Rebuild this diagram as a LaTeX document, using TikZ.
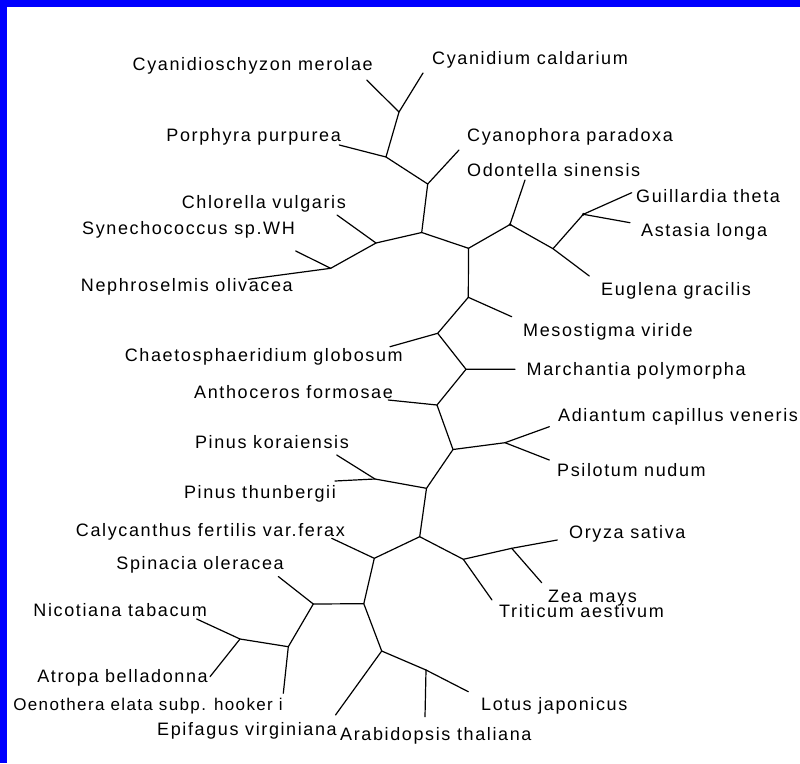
\documentclass[tikz,border=0pt]{standalone}
\usepackage{fontspec}
\newfontfamily\labfont{Liberation Sans}[LetterSpace=9]
\newfontfamily\labfontb{Liberation Sans}[LetterSpace=8]
\tikzset{
  br/.style={line width=1.2pt, line cap=round, line join=round},
  lbl/.style={inner sep=0pt, font=\labfont\fontsize{18}{21}\selectfont},
  lr/.style={lbl, anchor=base west},
  ll/.style={lbl, anchor=base east},
  dotnode/.style={circle, fill=black, inner sep=0pt, minimum size=3pt}
}
\begin{document}
\begin{tikzpicture}[x=1pt,y=-1pt]
\useasboundingbox (0,0) rectangle (800,763);
\fill[white] (0,0) rectangle (800,763);
\fill[blue] (0,0) rectangle (7.3,763);
\fill[blue] (0,0) rectangle (800,6.7);

% internal nodes
\coordinate (A) at (399,112);
\coordinate (B) at (386,157);
\coordinate (C) at (427.7,184);
\coordinate (D) at (421.7,232.5);
\coordinate (J) at (376,243);
\coordinate (I) at (330.7,268.3);
\coordinate (F) at (468.5,248.3);
\coordinate (E) at (510,224.5);
\coordinate (G) at (553,248.7);
\coordinate (H) at (583.3,214.3);
\coordinate (K) at (468.3,297.3);
\coordinate (L) at (437.7,333.3);
\coordinate (M) at (466,369.3);
\coordinate (N) at (437,405);
\coordinate (O) at (453,449.5);
\coordinate (P) at (505,442.7);
\coordinate (Q) at (426.5,488.3);
\coordinate (U) at (375,479);
\coordinate (R) at (419.7,536.7);
\coordinate (V) at (374.3,558.3);
\coordinate (S) at (463.3,559.3);
\coordinate (T) at (511.7,548.3);
\coordinate (W) at (363.8,603.7);
\coordinate (X) at (313.3,604);
\coordinate (Y) at (288.3,646.7);
\coordinate (Z) at (240,639);
\coordinate (AA) at (381.7,651);
\coordinate (AB) at (426,670);

% leaf ends
\coordinate (eCyme) at (366.7,80);
\coordinate (eCyca) at (423,73);
\coordinate (ePorp) at (339.3,145);
\coordinate (eCyan) at (459,150);
\coordinate (eChlo) at (337,215);
\coordinate (eSyne) at (295.7,251);
\coordinate (eNeph) at (248.3,279.3);
\coordinate (eOdon) at (525,180);
\coordinate (eGuil) at (631.7,192.7);
\coordinate (eAsta) at (630,222.7);
\coordinate (eEugl) at (589.3,276);
\coordinate (eMeso) at (511.7,316.7);
\coordinate (eChae) at (390,346.7);
\coordinate (eMarc) at (515,369.3);
\coordinate (eAnth) at (388.3,400);
\coordinate (eAdia) at (549.3,426.7);
\coordinate (ePsil) at (549.3,460);
\coordinate (eKora) at (336.7,455);
\coordinate (eThun) at (335,481);
\coordinate (eCaly) at (331.7,538.3);
\coordinate (eOryz) at (557.3,540);
\coordinate (eZeam) at (541.7,582.7);
\coordinate (eTrit) at (492,600);
\coordinate (eSpin) at (278.3,576.5);
\coordinate (eOeno) at (283.3,693.3);
\coordinate (eNico) at (196.7,619);
\coordinate (eAtro) at (210,676.7);
\coordinate (eEpif) at (335.5,715);
\coordinate (eArab) at (425,716.7);
\coordinate (eLotu) at (468.3,691.7);

% branches
\draw[br] (eCyme) -- (A) -- (eCyca);
\draw[br] (A) -- (B) -- (ePorp);
\draw[br] (B) -- (C) -- (eCyan);
\draw[br] (C) -- (D);
\draw[br] (D) -- (J) -- (eChlo);
\draw[br] (J) -- (I) -- (eSyne);
\draw[br] (I) -- (eNeph);
\draw[br] (D) -- (F) -- (E) -- (eOdon);
\draw[br] (E) -- (G) -- (H) -- (eGuil);
\draw[br] (H) -- (eAsta);
\draw[br] (G) -- (eEugl);
\draw[br] (F) -- (K) -- (eMeso);
\draw[br] (K) -- (L) -- (eChae);
\draw[br] (L) -- (M) -- (eMarc);
\draw[br] (M) -- (N) -- (eAnth);
\draw[br] (N) -- (O) -- (P) -- (eAdia);
\draw[br] (P) -- (ePsil);
\draw[br] (O) -- (Q) -- (U) -- (eKora);
\draw[br] (U) -- (eThun);
\draw[br] (Q) -- (R) -- (V) -- (eCaly);
\draw[br] (R) -- (S) -- (T) -- (eOryz);
\draw[br] (T) -- (eZeam);
\draw[br] (S) -- (eTrit);
\draw[br] (V) -- (W) -- (X) -- (eSpin);
\draw[br] (X) -- (Y) -- (eOeno);
\draw[br] (Y) -- (Z) -- (eNico);
\draw[br] (Z) -- (eAtro);
\draw[br] (W) -- (AA) -- (eEpif);
\draw[br] (AA) -- (AB) -- (eArab);
\draw[br] (AB) -- (eLotu);

\node[dotnode] (dH) at (H) {};
\node[dotnode] (dE) at (E) {};

% labels
\node[ll] (lCyme) at (373,70.5) {Cyanidioschyzon merolae};
\node[lr] (lCyca) at (432,64) {Cyanidium caldarium};
\node[ll] (lPorp) at (341,141) {Porphyra purpurea};
\node[lr] (lCyan) at (467,141.5) {Cyanophora paradoxa};
\node[lr] (lOdon) at (467,176.5) {Odontella sinensis};
\node[lr] (lGuil) at (636,202) {Guillardia theta};
\node[lr] (lAsta) at (641,236.5) {Astasia longa};
\node[lr] (lEugl) at (601,295) {Euglena gracilis};
\node[ll] (lChlo) at (346,208) {Chlorella vulgaris};
\node[ll] (lSyne) at (295,234) {Synechococcus sp.WH};
\node[ll] (lNeph) at (293,291) {Nephroselmis olivacea};
\node[lr] (lMeso) at (523,336.5) {Mesostigma viride};
\node[ll] (lChae) at (403,361.5) {Chaetosphaeridium globosum};
\node[lr] (lMarc) at (526.5,375) {Marchantia polymorpha};
\node[ll] (lAnth) at (393,398) {Anthoceros formosae};
\node[lr] (lAdia) at (558,421.5) {Adiantum capillus veneris};
\node[lr] (lPsil) at (557,476) {Psilotum nudum};
\node[ll] (lKora) at (349,448) {Pinus koraiensis};
\node[ll] (lThun) at (336,498) {Pinus thunbergii};
\node[ll] (lCaly) at (345,536.5) {Calycanthus fertilis var.ferax};
\node[lr] (lOryz) at (569,538) {Oryza sativa};
\node[lr] (lZeam) at (548,602) {Zea mays};
\node[lr] (lTrit) at (499,617) {Triticum aestivum};
\node[ll] (lSpin) at (284,569) {Spinacia oleracea};
\node[ll] (lNico) at (207,616) {Nicotiana tabacum};
\node[ll] (lAtro) at (208,682.5) {Atropa belladonna};
\node[ll, font=\labfontb\fontsize{17}{21}\selectfont] (lOeno) at (283,710.5) {Oenothera elata subp. hooker i};
\node[ll] (lEpif) at (337,735) {Epifagus virginiana};
\node[lr] (lArab) at (340,740) {Arabidopsis thaliana};
\node[lr] (lLotu) at (481,710) {Lotus japonicus};
\end{tikzpicture}
\end{document}
